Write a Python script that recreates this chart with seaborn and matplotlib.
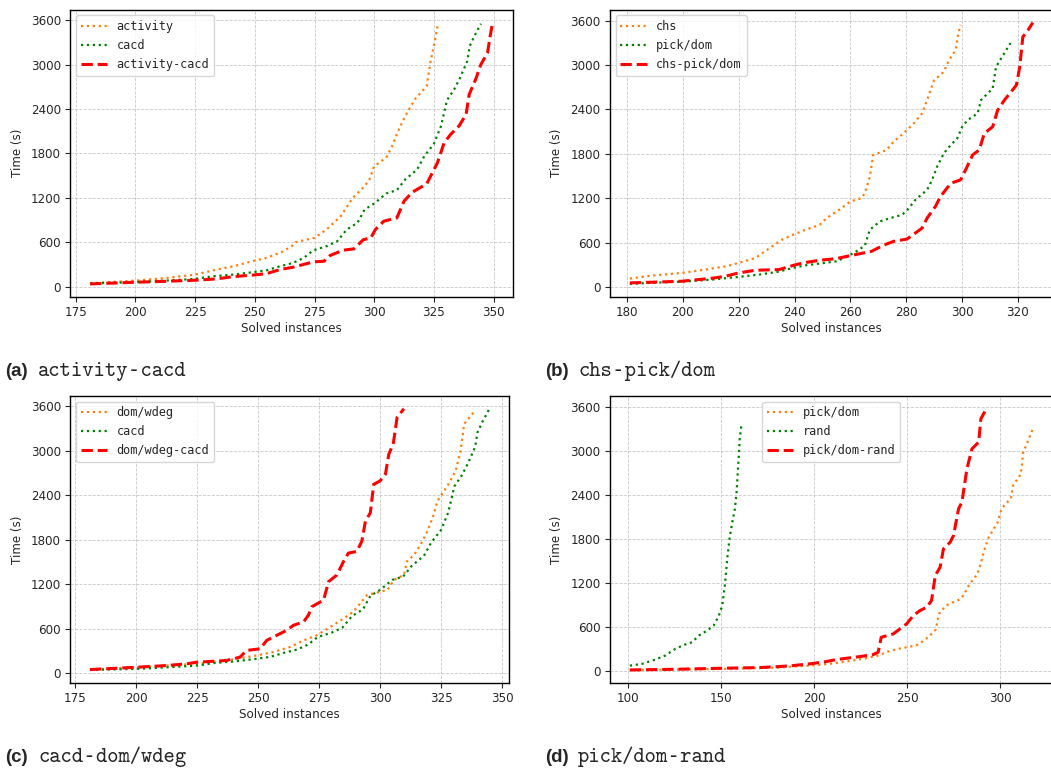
import numpy as np
import pandas as pd
import matplotlib
matplotlib.use("Agg")
import matplotlib.pyplot as plt
import seaborn as sns

# ---------------- data ----------------
activity_x = [181, 200, 213, 225, 234, 241, 250, 255, 262, 266, 267, 275, 280, 286, 291, 296, 298, 300, 302, 305,
              307.5, 310, 313, 317, 319.5, 322, 323.5, 325, 326.7]
activity_y = [45, 81, 117, 162, 230, 275, 352, 388, 478, 560, 600, 659, 771, 952, 1200, 1358, 1448, 1628, 1674, 1741,
              1899, 2102, 2305, 2531, 2621, 2711, 3027, 3252, 3550]

cacd_x = [181, 200, 213, 225, 232.5, 241, 249, 255, 260.5, 266, 270.5, 274.5, 280, 284.5, 288.5, 293, 296, 300, 305,
          309.5, 313, 318, 321, 325, 328, 330.5, 333.5, 336, 339, 340, 342, 344.7]
cacd_y = [45, 59, 81, 104, 140, 162, 194, 221, 275, 320, 388, 490, 546, 613, 771, 862, 1042, 1123, 1258,
          1304, 1448, 1583, 1764, 1930, 2170, 2520, 2666, 2824, 3050, 3250, 3388, 3555]

activity_cacd_x = [181, 200, 213, 225, 234, 241, 250, 255, 260.5, 266, 274.5, 279, 281.5, 287, 291.5, 295.5, 298.5,
                   300.5, 304, 309.5, 312.5, 316, 322, 326.5, 329.3, 332, 335.5, 338.5, 339.8, 342.5, 344.7, 347.5,
                   348.6, 349.6]
activity_cacd_y = [36, 59, 72, 86, 104, 135, 158, 176, 230, 262, 334, 343, 420, 492, 510, 636, 654,
                   771, 884, 929, 1155, 1277, 1389, 1674, 1944, 2057, 2170, 2328, 2598, 2801, 3004, 3162,
                   3388, 3570]

chs_x = [181, 189, 199.5, 208, 215.5, 220, 226, 228.5, 232, 235.5, 239.5, 244, 249, 251.5, 256, 260, 264, 265.2,
         267, 268.2, 273, 275.5, 279, 282.7, 285.7, 287.5, 290, 293.5, 295.3, 297.7, 298.7, 299.5]
chs_y = [112, 153, 189, 234, 279, 324, 391, 458, 548, 638, 706, 773, 840, 930, 1043, 1155, 1200, 1267,
         1492, 1784, 1852, 1964, 2076, 2211, 2346, 2526, 2795, 2908, 3065, 3200, 3424, 3545]

pick_dom_x = [101, 125, 150, 170, 181, 188, 200, 210.5, 220, 227.3, 234.5, 239.3, 244, 249, 255, 258.6, 262.2,
              265.2, 267, 270.6, 274.3, 278.5, 280.3, 283.3, 287.5, 289.3, 291.1, 293.5, 296, 298.3, 300.1, 302,
              305.6, 306.8, 309.2, 311, 312.2, 314, 315.8, 317.4]
pick_dom_y = [9, 15, 23, 35, 40, 54, 72, 99, 135, 166, 207, 256, 292, 315, 346, 404, 481,
              557, 773, 885, 930, 975, 1034, 1177, 1312, 1447, 1627, 1807, 1919, 2009, 2166, 2256,
              2346, 2526, 2616, 2683, 2975, 3087, 3200, 3299]

chs_pick_dom_x = [181, 199.5, 210.5, 215.3, 220, 226, 234.5, 239.3, 243, 249, 255, 259.8, 263.4, 267.6, 271.8,
                  275.5, 280.3, 283.3, 285.7, 287.5, 290.5, 292.3, 296, 299.5, 301.3, 303.8, 306.2, 308, 311,
                  312.8, 315.2, 319.5, 320.7, 321.8, 323.6, 325.4]
chs_pick_dom_y = [54, 76, 117, 144, 189, 225, 234, 288, 324, 360, 382, 422, 449, 481, 562,
                  616, 647, 728, 795, 930, 1088, 1222, 1402, 1447, 1582, 1784, 1852, 2076, 2166,
                  2391, 2526, 2728, 2975, 3380, 3469, 3575]

domwdeg_x = [181, 200, 224.7, 237, 249.4, 256, 263, 268.6, 274, 279.6, 285, 289, 294.7, 303, 305.7, 309.8, 311,
             314, 316.6, 319.4, 322, 323.5, 328, 331, 333, 334.5, 338.6]
domwdeg_y = [50, 81, 127, 172, 240, 285, 353, 443, 511, 624, 737, 828, 1054, 1122, 1257, 1325, 1506,
             1597, 1732, 1913, 2139, 2320, 2546, 2727, 2999, 3360, 3525]

domwdeg_cacd_x = [181, 200, 212.3, 220.6, 224.7, 237, 242.5, 245.3, 250.8, 253.5, 257.6, 261.7, 264.5, 268.6,
                  270.6, 272, 276.8, 278.9, 282.3, 285, 287, 290.5, 292.5, 294, 296, 297.4, 300, 302.2, 303.6,
                  305.4, 307, 309.8]
domwdeg_cacd_y = [50, 81, 104, 127, 149, 172, 217, 308, 330, 443, 511, 579, 647, 692,
                  782, 896, 986, 1235, 1325, 1506, 1619, 1642, 1778, 2049, 2162, 2546, 2592, 2682, 2954,
                  3089, 3451, 3564]

rand_x = [101, 107.4, 114.6, 120, 125.4, 130, 134.4, 138, 142.5, 146, 148.8, 150.6, 152, 153.3, 154.5, 156,
          157.4, 158.3, 159.2, 160, 161]
rand_y = [68, 91, 150, 205, 296, 350, 387, 478, 546, 614, 751, 887, 1160, 1525, 1798, 2025,
          2207, 2435, 2799, 3163, 3368]

pick_dom_rand_x = [101, 125.4, 150, 170.4, 181, 188.4, 199, 206.4, 211.8, 217.2, 224.4, 231.6, 234.3, 236, 242.4,
                   249.6, 253.2, 256.8, 260.4, 263, 265, 267.6, 269.4, 273, 274.8, 277.5, 279.3, 282, 284.7,
                   288.3, 289.5, 292.4]
pick_dom_rand_y = [9, 18, 32, 41, 55, 68, 96, 123, 150, 168, 191, 218, 250, 455, 500,
                   637, 751, 819, 865, 956, 1297, 1411, 1661, 1752, 1843, 2207, 2298, 2753, 3026,
                   3117, 3436, 3573]

yticks = [0, 600, 1200, 1800, 2400, 3000, 3600]
xticks_a = [175, 200, 225, 250, 275, 300, 325, 350]
xticks_b = [180, 200, 220, 240, 260, 280, 300, 320]
xticks_c = [175, 200, 225, 250, 275, 300, 325, 350]
xticks_d = [100, 150, 200, 250, 300]

caption_tags = ["(a)", "(b)", "(c)", "(d)"]
caption_names = ["activity\u2010cacd", "chs\u2010pick/dom", "cacd\u2010dom/wdeg", "pick/dom\u2010rand"]

# ---------------- styling ----------------
sns.set_theme(style="ticks")
plt.rcParams["font.family"] = ["DejaVu Sans"]
plt.rcParams["axes.edgecolor"] = "black"
plt.rcParams["axes.linewidth"] = 1.0
FS = 8.6

fig = plt.figure(figsize=(10.51, 7.71), dpi=100)
W, H = 1051.0, 771.0


def rect(l, r, t, b):
    return [l / W, 1 - b / H, (r - l) / W, (b - t) / H]


axes = [
    fig.add_axes(rect(70, 512.7, 9.5, 297)),
    fig.add_axes(rect(609.7, 1053, 9.5, 297)),
    fig.add_axes(rect(70, 509, 395.7, 683)),
    fig.add_axes(rect(609.7, 1053, 395.7, 683)),
]

ORANGE, GREEN, RED = "#ff7f0e", "#008000", "#ff0000"


def draw(ax, series, xticks, legend_loc):
    for label, xs, ys, color, ls, lw in series:
        df = pd.DataFrame({"x": xs, "y": ys})
        sns.lineplot(data=df, x="x", y="y", ax=ax, color=color, linestyle=ls, linewidth=lw,
                     estimator=None, sort=False, label=label)
    ax.set_yticks(yticks)
    ax.set_xticks(xticks)
    ax.set_xlabel("Solved instances", fontsize=FS, labelpad=2)
    ax.set_ylabel("Time (s)", fontsize=FS, labelpad=5)
    ax.tick_params(labelsize=FS, length=3.5, width=0.8, pad=3)
    ax.grid(True, linestyle="--", linewidth=0.6, color="#c8c8c8")
    ax.set_axisbelow(True)
    for s in ax.spines.values():
        s.set_visible(True)
        s.set_color("black")
        s.set_linewidth(1.0)
    ax.legend(loc=legend_loc, prop={"family": "DejaVu Sans Mono", "size": FS},
              frameon=True, fancybox=True, framealpha=0.8, edgecolor="#cccccc",
              handlelength=2.2, borderpad=0.4, labelspacing=0.5)
    ax.margins(x=0.05, y=0.05)


pick_dom_sub_x = [x for x in pick_dom_x if x >= 181]
pick_dom_sub_y = [y for x, y in zip(pick_dom_x, pick_dom_y) if x >= 181]

draw(axes[0], [
    ("activity", activity_x, activity_y, ORANGE, ":", 1.6),
    ("cacd", cacd_x, cacd_y, GREEN, ":", 1.6),
    ("activity-cacd", activity_cacd_x, activity_cacd_y, RED, "--", 2.2),
], xticks_a, "upper left")

draw(axes[1], [
    ("chs", chs_x, chs_y, ORANGE, ":", 1.6),
    ("pick/dom", pick_dom_sub_x, pick_dom_sub_y, GREEN, ":", 1.6),
    ("chs-pick/dom", chs_pick_dom_x, chs_pick_dom_y, RED, "--", 2.2),
], xticks_b, "upper left")

draw(axes[2], [
    ("dom/wdeg", domwdeg_x, domwdeg_y, ORANGE, ":", 1.6),
    ("cacd", cacd_x, cacd_y, GREEN, ":", 1.6),
    ("dom/wdeg-cacd", domwdeg_cacd_x, domwdeg_cacd_y, RED, "--", 2.2),
], xticks_c, "upper left")

draw(axes[3], [
    ("pick/dom", pick_dom_x, pick_dom_y, ORANGE, ":", 1.6),
    ("rand", rand_x, rand_y, GREEN, ":", 1.6),
    ("pick/dom-rand", pick_dom_rand_x, pick_dom_rand_y, RED, "--", 2.2),
], xticks_d, "upper center")

# ---------------- captions ----------------
caption_pos = [(5, 371), (545, 371), (5, 757), (545, 757)]
for tag, name, (px, py) in zip(caption_tags, caption_names, caption_pos):
    fig.text(px / W, 1 - py / H, tag, fontsize=13.5, fontweight="bold",
             family=["Liberation Sans", "DejaVu Sans"], va="center", ha="left")
    fig.text((px + 33) / W, 1 - py / H, name, fontsize=15.5,
             family=["cmtt10", "DejaVu Sans Mono"], va="center", ha="left")

fig.savefig("out.png", dpi=100)
